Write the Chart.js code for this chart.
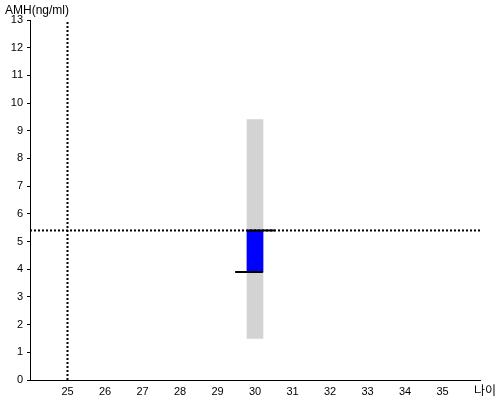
<!DOCTYPE html>
<html>
<head>
<meta charset="utf-8">
<script src="https://cdn.jsdelivr.net/npm/chart.js@4/dist/chart.umd.min.js"></script>
<style>
  html, body { margin: 0; padding: 0; background: #fff; }
  #wrap { width: 500px; height: 400px; }
</style>
</head>
<body>
<div id="wrap"><canvas id="chart"></canvas></div>
<script>
// данные
const xTicks = [25, 26, 27, 28, 29, 30, 31, 32, 33, 34, 35];
const yTicks = [0, 1, 2, 3, 4, 5, 6, 7, 8, 9, 10, 11, 12, 13];
const refAge = 25;
const refAmh = 5.4;
const age = 30;
const rangeBar = [1.5, 9.4];     // серый диапазон
const valueBar = [3.9, 5.4];     // синий столбец
const upperMarkX = [29.79, 30.53];
const upperMarkY = [5.4, 5.4];
const lowerMarkX = [29.47, 30.21];
const lowerMarkY = [3.9, 3.9];
const xLabel = '나이';
const yLabel = 'AMH(ng/ml)';

const toPoints = (xs, ys) => xs.map((x, i) => ({ x: x, y: ys[i] }));

// подписи осей
const axisTitles = {
    id: 'axisTitles',
    afterDraw(chart) {
        const ctx = chart.ctx;
        const area = chart.chartArea;
        ctx.save();
        ctx.fillStyle = '#000';
        ctx.textBaseline = 'alphabetic';
        ctx.textAlign = 'left';
        ctx.font = '12px "Liberation Sans", Arial, sans-serif';
        ctx.fillText(yLabel, 5, 14);
        ctx.font = '12px "Noto Sans CJK KR", sans-serif';
        ctx.fillText(xLabel, area.right - 6, area.bottom + 15);
        ctx.restore();
    }
};

new Chart(document.getElementById('chart'), {
    type: 'bar',
    data: {
        datasets: [
            {
                type: 'line',
                data: toPoints(lowerMarkX, lowerMarkY),
                borderColor: '#000',
                borderWidth: 2,
                pointRadius: 0,
                order: 1
            },
            {
                type: 'line',
                data: toPoints(upperMarkX, upperMarkY),
                borderColor: '#000',
                borderWidth: 2,
                pointRadius: 0,
                order: 1
            },
            {
                type: 'line',
                data: [{ x: 24, y: refAmh }, { x: 36, y: refAmh }],
                borderColor: '#000',
                borderWidth: 2,
                borderDash: [2, 2],
                pointRadius: 0,
                order: 2
            },
            {
                type: 'line',
                data: [{ x: refAge, y: 0 }, { x: refAge, y: 13 }],
                borderColor: '#000',
                borderWidth: 2,
                borderDash: [2, 2],
                pointRadius: 0,
                order: 2
            },
            {
                data: [{ x: age, y: valueBar }],
                backgroundColor: '#0000ff',
                barThickness: 16,
                grouped: false,
                order: 3
            },
            {
                data: [{ x: age, y: rangeBar }],
                backgroundColor: '#d3d3d3',
                barThickness: 16,
                grouped: false,
                order: 4
            }
        ]
    },
    options: {
        responsive: true,
        maintainAspectRatio: false,
        animation: false,
        layout: { padding: { top: 20, right: 20, left: 0, bottom: 0 } },
        plugins: {
            legend: { display: false },
            tooltip: { enabled: false }
        },
        scales: {
            x: {
                type: 'linear',
                min: 24,
                max: 36,
                offset: false,
                afterBuildTicks: (scale) => { scale.ticks = xTicks.map(v => ({ value: v })); },
                afterFit: (scale) => { scale.height = 20; },
                grid: { drawOnChartArea: false, drawTicks: false, offset: false },
                border: { display: true, color: '#000', width: 1 },
                ticks: {
                    color: '#000',
                    padding: 5,
                    maxRotation: 0,
                    autoSkip: false,
                    font: { family: '"Liberation Sans", Arial, sans-serif', size: 11 }
                }
            },
            y: {
                min: 0,
                max: 13,
                afterBuildTicks: (scale) => { scale.ticks = yTicks.map(v => ({ value: v })); },
                afterFit: (scale) => { scale.width = 30; },
                grid: { drawOnChartArea: false, drawTicks: true, tickLength: 3, color: '#000' },
                border: { display: true, color: '#000', width: 1 },
                ticks: {
                    color: '#000',
                    padding: 4,
                    autoSkip: false,
                    font: { family: '"Liberation Sans", Arial, sans-serif', size: 11 }
                }
            }
        }
    },
    plugins: [axisTitles]
});
</script>
</body>
</html>
